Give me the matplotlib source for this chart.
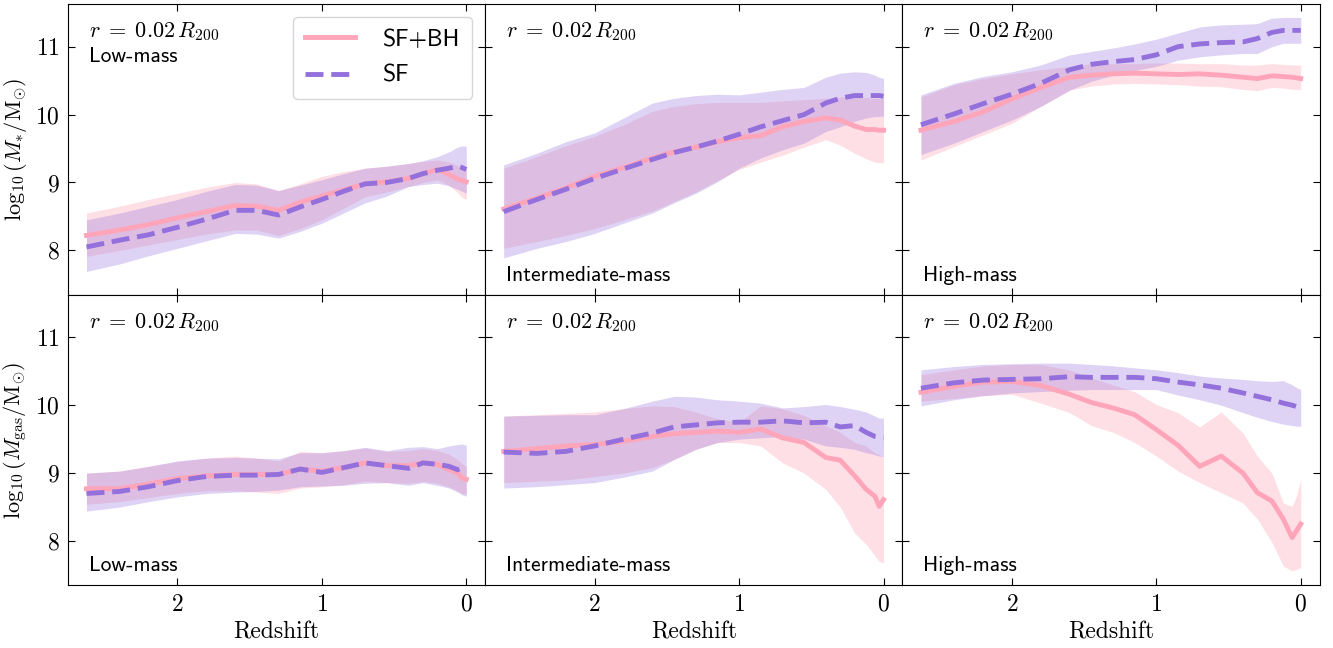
import numpy as np
import matplotlib
matplotlib.use("Agg")
import matplotlib.pyplot as plt

# -----------------------------
# Data
# -----------------------------
redshift = [2.63, 2.4, 2.2, 2.0, 1.8, 1.6, 1.45, 1.3, 1.15, 1.0,
            0.85, 0.7, 0.55, 0.4, 0.3, 0.2, 0.12, 0.06, 0.03, 0.0]

# stellar mass, low-mass haloes
mstar_low_bh    = [8.22, 8.30, 8.38, 8.48, 8.57, 8.66, 8.65, 8.59, 8.71, 8.80, 8.89, 8.98, 9.01, 9.06, 9.13, 9.19, 9.12, 9.05, 9.03, 9.01]
mstar_low_bh_lo = [7.91, 8.00, 8.08, 8.16, 8.24, 8.30, 8.30, 8.22, 8.32, 8.45, 8.62, 8.79, 8.86, 8.94, 9.00, 9.04, 8.96, 8.85, 8.78, 8.75]
mstar_low_bh_hi = [8.55, 8.65, 8.75, 8.84, 8.93, 9.00, 8.98, 8.88, 8.98, 9.09, 9.16, 9.21, 9.24, 9.28, 9.31, 9.33, 9.30, 9.25, 9.22, 9.19]
mstar_low_sf    = [8.05, 8.15, 8.23, 8.34, 8.46, 8.59, 8.59, 8.52, 8.64, 8.75, 8.87, 8.98, 9.00, 9.06, 9.13, 9.18, 9.21, 9.24, 9.22, 9.19]
mstar_low_sf_lo = [7.69, 7.80, 7.92, 8.03, 8.14, 8.25, 8.24, 8.18, 8.28, 8.40, 8.55, 8.70, 8.80, 8.94, 8.97, 8.99, 8.95, 8.90, 8.87, 8.84]
mstar_low_sf_hi = [8.45, 8.55, 8.65, 8.75, 8.87, 8.97, 8.96, 8.88, 8.96, 9.04, 9.13, 9.21, 9.24, 9.28, 9.32, 9.38, 9.45, 9.52, 9.54, 9.53]

# stellar mass, intermediate-mass haloes
mstar_int_bh    = [8.61, 8.77, 8.92, 9.09, 9.22, 9.36, 9.45, 9.52, 9.60, 9.66, 9.69, 9.82, 9.90, 9.95, 9.92, 9.83, 9.78, 9.78, 9.77, 9.77]
mstar_int_bh_lo = [8.03, 8.13, 8.22, 8.32, 8.45, 8.58, 8.72, 8.86, 9.03, 9.19, 9.30, 9.40, 9.52, 9.63, 9.55, 9.43, 9.35, 9.30, 9.29, 9.29]
mstar_int_bh_hi = [9.21, 9.38, 9.54, 9.68, 9.85, 10.05, 10.12, 10.16, 10.18, 10.18, 10.18, 10.20, 10.22, 10.24, 10.26, 10.26, 10.25, 10.24, 10.24, 10.24]
mstar_int_sf    = [8.57, 8.75, 8.90, 9.06, 9.20, 9.34, 9.44, 9.52, 9.61, 9.71, 9.82, 9.91, 10.00, 10.17, 10.24, 10.28, 10.28, 10.28, 10.28, 10.27]
mstar_int_sf_lo = [7.89, 8.03, 8.13, 8.25, 8.40, 8.55, 8.70, 8.84, 9.01, 9.21, 9.36, 9.48, 9.58, 9.75, 9.82, 9.90, 9.95, 9.97, 9.97, 9.98]
mstar_int_sf_hi = [9.26, 9.43, 9.60, 9.73, 9.95, 10.17, 10.24, 10.28, 10.30, 10.29, 10.33, 10.37, 10.40, 10.55, 10.61, 10.63, 10.62, 10.58, 10.55, 10.53]

# stellar mass, high-mass haloes
mstar_high_bh    = [9.77, 9.90, 10.04, 10.23, 10.40, 10.55, 10.58, 10.60, 10.61, 10.60, 10.59, 10.60, 10.58, 10.55, 10.53, 10.57, 10.56, 10.55, 10.54, 10.53]
mstar_high_bh_lo = [9.33, 9.53, 9.70, 9.87, 10.12, 10.36, 10.42, 10.45, 10.46, 10.45, 10.44, 10.42, 10.41, 10.37, 10.35, 10.40, 10.39, 10.37, 10.37, 10.37]
mstar_high_bh_hi = [10.26, 10.44, 10.53, 10.60, 10.66, 10.71, 10.75, 10.75, 10.75, 10.76, 10.76, 10.75, 10.75, 10.73, 10.73, 10.75, 10.74, 10.73, 10.73, 10.73]
mstar_high_sf    = [9.85, 10.01, 10.16, 10.30, 10.46, 10.66, 10.74, 10.78, 10.81, 10.88, 11.00, 11.04, 11.06, 11.07, 11.12, 11.21, 11.24, 11.24, 11.24, 11.24]
mstar_high_sf_lo = [9.41, 9.58, 9.75, 9.92, 10.12, 10.36, 10.49, 10.58, 10.65, 10.71, 10.80, 10.85, 10.88, 10.90, 10.90, 11.00, 11.05, 11.05, 11.05, 11.05]
mstar_high_sf_hi = [10.29, 10.46, 10.56, 10.63, 10.73, 10.88, 10.93, 10.98, 11.04, 11.11, 11.20, 11.29, 11.32, 11.33, 11.34, 11.42, 11.43, 11.43, 11.43, 11.43]

# gas mass, low-mass haloes
mgas_low_bh    = [8.77, 8.77, 8.84, 8.92, 8.96, 8.98, 8.98, 8.98, 9.06, 9.03, 9.08, 9.15, 9.11, 9.11, 9.15, 9.13, 9.05, 9.00, 8.93, 8.91]
mgas_low_bh_lo = [8.54, 8.58, 8.64, 8.70, 8.74, 8.74, 8.72, 8.70, 8.78, 8.80, 8.83, 8.88, 8.86, 8.85, 8.88, 8.85, 8.80, 8.74, 8.70, 8.69]
mgas_low_bh_hi = [9.00, 9.03, 9.10, 9.17, 9.22, 9.25, 9.22, 9.18, 9.32, 9.30, 9.33, 9.37, 9.32, 9.33, 9.36, 9.33, 9.28, 9.20, 9.14, 9.10]
mgas_low_sf    = [8.70, 8.73, 8.80, 8.89, 8.95, 8.97, 8.97, 8.98, 9.06, 9.01, 9.08, 9.15, 9.11, 9.07, 9.15, 9.13, 9.10, 9.05, 9.08, 9.08]
mgas_low_sf_lo = [8.44, 8.50, 8.58, 8.65, 8.70, 8.72, 8.73, 8.75, 8.80, 8.81, 8.82, 8.85, 8.86, 8.82, 8.86, 8.82, 8.78, 8.72, 8.68, 8.66]
mgas_low_sf_hi = [9.00, 9.03, 9.10, 9.18, 9.22, 9.23, 9.22, 9.21, 9.30, 9.30, 9.33, 9.38, 9.33, 9.38, 9.39, 9.36, 9.40, 9.42, 9.43, 9.41]

# gas mass, intermediate-mass haloes
mgas_int_bh    = [9.32, 9.36, 9.40, 9.42, 9.47, 9.54, 9.58, 9.60, 9.62, 9.60, 9.65, 9.52, 9.45, 9.23, 9.19, 8.96, 8.76, 8.66, 8.51, 8.61]
mgas_int_bh_lo = [8.86, 8.88, 8.90, 8.95, 9.00, 9.08, 9.20, 9.35, 9.45, 9.45, 9.40, 9.15, 9.00, 8.76, 8.50, 8.12, 7.95, 7.78, 7.70, 7.68]
mgas_int_bh_hi = [9.84, 9.86, 9.88, 9.90, 9.95, 9.99, 9.98, 9.90, 9.80, 9.75, 9.99, 9.95, 9.85, 9.70, 9.60, 9.45, 9.40, 9.30, 9.27, 9.25]
mgas_int_sf    = [9.31, 9.29, 9.32, 9.40, 9.50, 9.59, 9.68, 9.71, 9.74, 9.75, 9.75, 9.77, 9.74, 9.75, 9.68, 9.70, 9.60, 9.54, 9.53, 9.52]
mgas_int_sf_lo = [8.78, 8.80, 8.83, 8.86, 8.94, 9.03, 9.20, 9.35, 9.45, 9.50, 9.52, 9.54, 9.50, 9.40, 9.38, 9.35, 9.30, 9.27, 9.25, 9.25]
mgas_int_sf_hi = [9.84, 9.85, 9.86, 9.86, 9.95, 10.06, 10.13, 10.12, 10.08, 10.06, 10.03, 9.96, 9.98, 10.01, 9.98, 9.94, 9.90, 9.84, 9.81, 9.81]

# gas mass, high-mass haloes
mgas_high_bh    = [10.19, 10.28, 10.34, 10.35, 10.29, 10.16, 10.04, 9.96, 9.86, 9.64, 9.41, 9.10, 9.25, 9.00, 8.71, 8.59, 8.32, 8.05, 8.15, 8.25]
mgas_high_bh_lo = [10.06, 10.10, 10.14, 10.16, 10.03, 9.89, 9.70, 9.60, 9.45, 9.25, 9.03, 8.86, 8.71, 8.56, 8.32, 7.98, 7.63, 7.56, 7.58, 7.61]
mgas_high_bh_hi = [10.45, 10.52, 10.58, 10.60, 10.60, 10.52, 10.40, 10.30, 10.20, 10.01, 9.89, 9.68, 9.90, 9.59, 9.25, 9.00, 8.56, 8.51, 8.66, 8.91]
mgas_high_sf    = [10.25, 10.33, 10.37, 10.38, 10.39, 10.42, 10.41, 10.41, 10.41, 10.39, 10.34, 10.30, 10.25, 10.18, 10.13, 10.08, 10.03, 10.00, 9.98, 9.95]
mgas_high_sf_lo = [9.99, 10.08, 10.14, 10.18, 10.20, 10.22, 10.23, 10.23, 10.23, 10.23, 10.15, 10.08, 10.00, 9.89, 9.82, 9.76, 9.72, 9.70, 9.69, 9.69]
mgas_high_sf_hi = [10.52, 10.57, 10.60, 10.61, 10.62, 10.62, 10.60, 10.58, 10.55, 10.52, 10.48, 10.43, 10.40, 10.38, 10.36, 10.35, 10.36, 10.30, 10.26, 10.23]

mass_bins = ['Low-mass', 'Intermediate-mass', 'High-mass']
ylabels = [r'$\log_{10}(M_{*}/\mathrm{M}_{\odot})$',
           r'$\log_{10}(M_{\rm gas}/\mathrm{M}_{\odot})$']

panels = [
    [(mstar_low_bh, mstar_low_bh_lo, mstar_low_bh_hi, mstar_low_sf, mstar_low_sf_lo, mstar_low_sf_hi),
     (mstar_int_bh, mstar_int_bh_lo, mstar_int_bh_hi, mstar_int_sf, mstar_int_sf_lo, mstar_int_sf_hi),
     (mstar_high_bh, mstar_high_bh_lo, mstar_high_bh_hi, mstar_high_sf, mstar_high_sf_lo, mstar_high_sf_hi)],
    [(mgas_low_bh, mgas_low_bh_lo, mgas_low_bh_hi, mgas_low_sf, mgas_low_sf_lo, mgas_low_sf_hi),
     (mgas_int_bh, mgas_int_bh_lo, mgas_int_bh_hi, mgas_int_sf, mgas_int_sf_lo, mgas_int_sf_hi),
     (mgas_high_bh, mgas_high_bh_lo, mgas_high_bh_hi, mgas_high_sf, mgas_high_sf_lo, mgas_high_sf_hi)],
]

# -----------------------------
# Style
# -----------------------------
plt.rcParams['font.family'] = 'serif'
plt.rcParams['font.serif'] = ['cmr10']
plt.rcParams['mathtext.fontset'] = 'cm'
plt.rcParams['axes.formatter.use_mathtext'] = True
plt.rcParams['axes.unicode_minus'] = False

col_bh = '#ffa5ba'
col_sf = '#9370db'

fig, axes = plt.subplots(2, 3, figsize=(13.33, 6.48), dpi=100, sharex=True, sharey=True)
fig.subplots_adjust(left=0.051, right=0.990, top=0.994, bottom=0.097, wspace=0, hspace=0)

z = np.array(redshift)

for row in range(2):
    for col in range(3):
        ax = axes[row, col]
        bh, bh_lo, bh_hi, sf, sf_lo, sf_hi = panels[row][col]
        ax.fill_between(z, bh_lo, bh_hi, color=col_bh, alpha=0.35, lw=0)
        ax.fill_between(z, sf_lo, sf_hi, color=col_sf, alpha=0.30, lw=0)
        ax.plot(z, bh, color=col_bh, lw=3.5, label='SF+BH')
        ax.plot(z, sf, color=col_sf, lw=3.5, ls='--', label='SF')

        ax.text(0.05, 0.905, r'$r\;=\;0.02\,R_{200}$', transform=ax.transAxes,
                fontsize=16, va='center', ha='left')
        if row == 0 and col == 0:
            ax.text(0.05, 0.82, mass_bins[col], transform=ax.transAxes,
                    fontsize=15.5, family='cmss10', va='center', ha='left')
        else:
            ax.text(0.05, 0.066, mass_bins[col], transform=ax.transAxes,
                    fontsize=15.5, family='cmss10', va='center', ha='left')

        ax.tick_params(direction='in', top=True, right=True, length=5,
                       labelsize=17, pad=6)
        if row == 1:
            ax.set_xlabel('Redshift', fontsize=17, labelpad=4)
        if col == 0:
            ax.set_ylabel(ylabels[row], fontsize=16)

axes[0, 0].set_xlim(2.758, -0.131)
axes[0, 0].set_ylim(7.35, 11.63)
axes[0, 0].set_xticks([2, 1, 0])
axes[0, 0].set_yticks([8, 9, 10, 11])

axes[0, 0].legend(loc='upper right', prop={'family': 'cmss10', 'size': 17},
                  handlelength=2.1, borderaxespad=0.55, labelspacing=0.6,
                  handletextpad=1.2, borderpad=0.5)

fig.savefig('out.png', dpi=100)
